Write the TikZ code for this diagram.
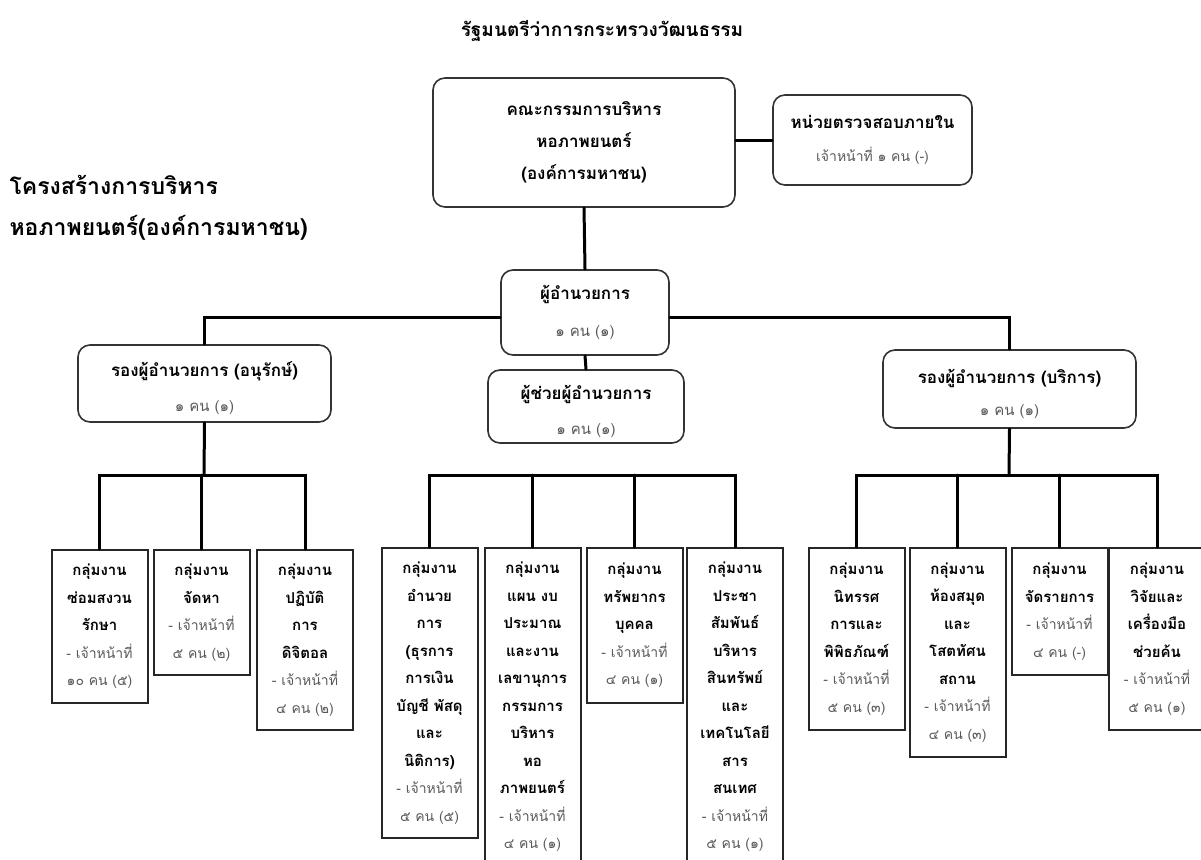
\documentclass[tikz,border=0pt]{standalone}
\usepackage{fontspec}
\setmainfont[Script=Thai]{Loma}
\usetikzlibrary{calc}
\tikzset{
  topbox/.style={draw=black!80, line width=1.6pt, rounded corners=12pt, align=center},
  grpbox/.style={draw=black!85, line width=2pt, anchor=north, minimum width=96pt, inner sep=0pt, align=center, font=\bfseries\fontsize{15}{27.5}\selectfont},
  link/.style={line width=3pt, line cap=round},
}
\newcommand{\staffline}[2]{\mdseries\color{black!65}\fontsize{#1}{#2}\selectfont}

\begin{document}
\begin{tikzpicture}[x=1pt,y=-1pt]
	%%%%% START %%%%%
	\useasboundingbox (0,0) rectangle (1201,859);
	\clip (0,0) rectangle (1201,859);

	\node[font=\bfseries\fontsize{19}{22}\selectfont] (minister) at (602,31) {รัฐมนตรีว่าการกระทรวงวัฒนธรรม};
	\node[anchor=west, align=left, font=\bfseries\fontsize{23}{41}\selectfont] (title) at (6,207.5) {โครงสร้างการบริหาร\\หอภาพยนตร์(องค์การมหาชน)};

	\node[topbox, minimum width=302pt, minimum height=129pt, font=\bfseries\fontsize{17}{32}\selectfont] (board) at (584,142.5) {คณะกรรมการบริหาร\\หอภาพยนตร์\\(องค์การมหาชน)};
	\node[topbox, minimum width=199pt, minimum height=90pt, font=\bfseries\fontsize{17}{33}\selectfont] (audit) at (872.5,140) {หน่วยตรวจสอบภายใน\\\staffline{14}{33}เจ้าหน้าที่ ๑ คน (-)};

	\node[topbox, minimum width=168pt, minimum height=85pt, font=\bfseries\fontsize{17}{37}\selectfont] (director) at (585,312.5) {ผู้อำนวยการ\\\staffline{15}{37}๑ คน (๑)};
	\node[topbox, minimum width=196pt, minimum height=73pt, font=\bfseries\fontsize{17}{35}\selectfont] (asst) at (586,406.5) {\rule{0pt}{24pt}ผู้ช่วยผู้อำนวยการ\\\staffline{15}{35}๑ คน (๑)};
	\node[topbox, minimum width=253pt, minimum height=77pt, font=\bfseries\fontsize{17}{35}\selectfont] (depL) at (204.5,383.5) {\rule{0pt}{24pt}รองผู้อำนวยการ (อนุรักษ์)\\\staffline{15}{35}๑ คน (๑)};
	\node[topbox, minimum width=253pt, minimum height=78pt, font=\bfseries\fontsize{17}{32}\selectfont] (depR) at (1009.5,389) {\rule{0pt}{24pt}รองผู้อำนวยการ (บริการ)\\\staffline{15}{32}๑ คน (๑)};

	% conservation groups
	\node[grpbox, minimum height=152.5pt] (g1) at (99.5,549) {กลุ่มงาน\\ซ่อมสงวน\\รักษา\\\staffline{14}{27.5}- เจ้าหน้าที่\\\staffline{14}{27.5}๑๐ คน (๕)};
	\node[grpbox, minimum height=125pt] (g2) at (201.5,549) {กลุ่มงาน\\จัดหา\\\staffline{14}{27.5}- เจ้าหน้าที่\\\staffline{14}{27.5}๕ คน (๒)};
	\node[grpbox, minimum height=180pt] (g3) at (305,549) {กลุ่มงาน\\ปฏิบัติ\\การ\\ดิจิตอล\\\staffline{14}{27.5}- เจ้าหน้าที่\\\staffline{14}{27.5}๔ คน (๒)};

	% support groups
	\node[grpbox, minimum height=290pt] (gA) at (429.5,547) {กลุ่มงาน\\อำนวย\\การ\\(ธุรการ\\การเงิน\\บัญชี พัสดุ\\และ\\นิติการ)\\\staffline{14}{27.5}- เจ้าหน้าที่\\\staffline{14}{27.5}๕ คน (๕)};
	\node[grpbox, minimum height=317.5pt] (gB) at (532.5,547) {กลุ่มงาน\\แผน งบ\\ประมาณ\\และงาน\\เลขานุการ\\กรรมการ\\บริหาร\\หอ\\ภาพยนตร์\\\staffline{14}{27.5}- เจ้าหน้าที่\\\staffline{14}{27.5}๔ คน (๑)};
	\node[grpbox, minimum height=155pt] (gC) at (634.5,547) {กลุ่มงาน\\ทรัพยากร\\บุคคล\\\staffline{14}{27.5}- เจ้าหน้าที่\\\staffline{14}{27.5}๔ คน (๑)};
	\node[grpbox, minimum height=317.5pt] (gD) at (735,547) {กลุ่มงาน\\ประชา\\สัมพันธ์\\บริหาร\\สินทรัพย์\\และ\\เทคโนโลยี\\สาร\\สนเทศ\\\staffline{14}{27.5}- เจ้าหน้าที่\\\staffline{14}{27.5}๕ คน (๑)};

	% service groups
	\node[grpbox, minimum height=182pt] (gE) at (856.5,547) {กลุ่มงาน\\นิทรรศ\\การและ\\พิพิธภัณฑ์\\\staffline{14}{27.5}- เจ้าหน้าที่\\\staffline{14}{27.5}๕ คน (๓)};
	\node[grpbox, minimum height=209pt] (gF) at (957.5,547) {กลุ่มงาน\\ห้องสมุด\\และ\\โสตทัศน\\สถาน\\\staffline{14}{27.5}- เจ้าหน้าที่\\\staffline{14}{27.5}๔ คน (๓)};
	\node[grpbox, minimum height=127pt] (gG) at (1059.5,547) {กลุ่มงาน\\จัดรายการ\\\staffline{14}{27.5}- เจ้าหน้าที่\\\staffline{14}{27.5}๔ คน (-)};
	\node[grpbox, minimum height=182pt] (gH) at (1157,547) {กลุ่มงาน\\วิจัยและ\\เครื่องมือ\\ช่วยค้น\\\staffline{14}{27.5}- เจ้าหน้าที่\\\staffline{14}{27.5}๕ คน (๑)};

	\coordinate (lbar) at (204,475);
	\coordinate (mbar) at (585,475);
	\coordinate (rbar) at (1009,475);

	\draw[link] (audit.west) -- (audit.west -| board.east);
	\draw[link] (board.south) -- (director.north);
	\draw[link] (director.south) -- (asst.north);
	\draw[link] ([yshift=-5pt]director.west) -| (depL.north);
	\draw[link] ([yshift=-5pt]director.east) -| (depR.north);

	\draw[link] (depL.south) -- (lbar);
	\draw[link] (g1.north) -- (g1.north |- lbar) -- (g3.north |- lbar) -- (g3.north);
	\draw[link] (g2.north) -- (g2.north |- lbar);

	\draw[link] (gA.north) -- (gA.north |- mbar) -- (gD.north |- mbar) -- (gD.north);
	\draw[link] (gB.north) -- (gB.north |- mbar);
	\draw[link] (gC.north) -- (gC.north |- mbar);

	\draw[link] (depR.south) -- (rbar);
	\draw[link] (gE.north) -- (gE.north |- rbar) -- (gH.north |- rbar) -- (gH.north);
	\draw[link] (gF.north) -- (gF.north |- rbar);
	\draw[link] (gG.north) -- (gG.north |- rbar);
	%%%%% END %%%%%
\end{tikzpicture}
\end{document}
